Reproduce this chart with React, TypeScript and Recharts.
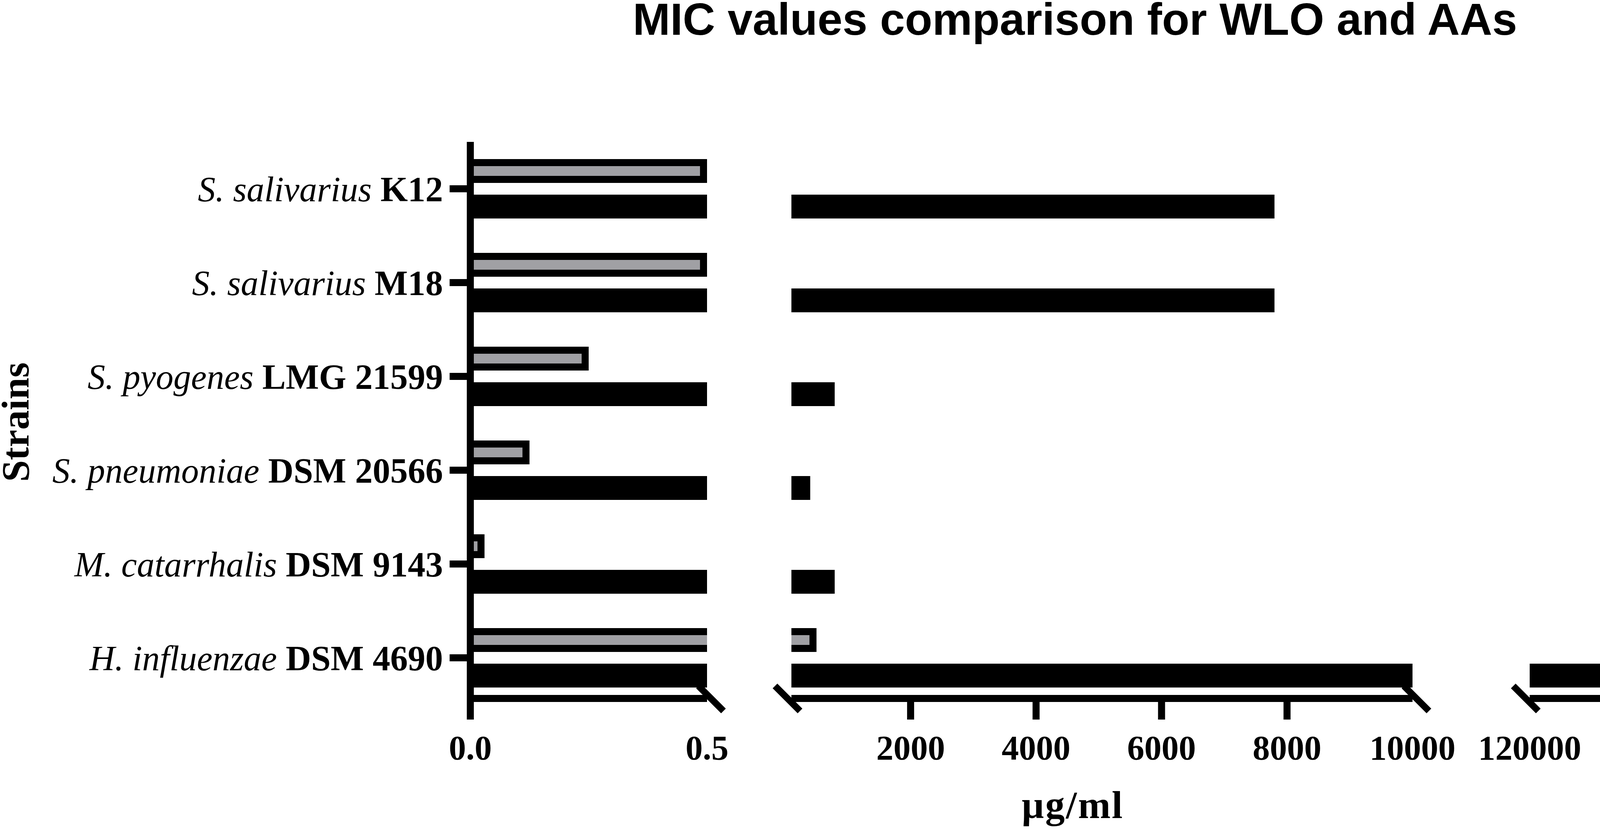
import React from 'react';
import { BarChart, Bar, XAxis, YAxis, Legend } from 'recharts';

// ---------- data ----------
const SPECIES = ['S. salivarius', 'S. salivarius', 'S. pyogenes', 'S. pneumoniae', 'M. catarrhalis', 'H. influenzae'];
const STRAINS = ['K12', 'M18', 'LMG 21599', 'DSM 20566', 'DSM 9143', 'DSM 4690'];
const WLO_VALUES = [7800, 7800, 790, 400, 790, 125000];
const AAS_VALUES = [0.5, 0.5, 0.25, 0.125, 0.03, 500];

const SEG1_DOMAIN = [0, 0.5];
const SEG1_TICKS = [0, 0.5];
const SEG1_LABELS = ['0.0', '0.5'];
const SEG1_TICKLINES = [0];

const SEG2_DOMAIN = [100, 10000];
const SEG2_TICKS = [100, 2000, 4000, 6000, 8000, 10000];
const SEG2_LABELS = ['', '2000', '4000', '6000', '8000', '10000'];
const SEG2_TICKLINES = [2000, 4000, 6000, 8000];

const SEG3_DOMAIN = [120000, 125000];
const SEG3_TICKS = [120000, 125000];
const SEG3_LABELS = ['120000', '125000'];
const SEG3_TICKLINES = [125000];

const LEGEND_ORDER = ['WLO', 'AAs'];

const TITLE = 'MIC values comparison for WLO and AAs';
const X_TITLE = 'µg/ml';
const Y_TITLE = 'Strains';

// ---------- style ----------
const GRAY = '#A0A0A4';
const SERIF = '"Liberation Serif", "Times New Roman", Times, serif';
const SANS = '"Liberation Sans", Arial, Helvetica, sans-serif';
const LINE = 18;

const CATEGORY_NAMES = SPECIES.map((s, i) => `${s} ${STRAINS[i]}`);

const buildData = (lo: number) =>
  CATEGORY_NAMES.map((name, i) => ({
    name,
    wlo: WLO_VALUES[i] > lo ? WLO_VALUES[i] : null,
    aas: AAS_VALUES[i] > lo ? AAS_VALUES[i] : null,
  }));

const DATA1 = buildData(SEG1_DOMAIN[0]);
const DATA2 = buildData(SEG2_DOMAIN[0]);
const DATA3 = buildData(SEG3_DOMAIN[0]);

const WloShape = (p: any) => {
  const { x, y, width, height } = p;
  if (!(width > 0)) return <g />;
  return <rect x={x} y={y} width={width} height={height} fill="#000" />;
};

const AasShape = (p: any) => {
  const { x, y, width, height } = p;
  if (!(width > 0)) return <g />;
  return (
    <g>
      <rect x={x} y={y} width={width} height={height} fill="#000" />
      <rect x={x} y={y + LINE} width={Math.max(0, width - LINE)} height={Math.max(0, height - 2 * LINE)} fill={GRAY} />
    </g>
  );
};

const YTick = (props: any) => {
  const { x, y, payload } = props;
  const i = CATEGORY_NAMES.indexOf(payload.value);
  return (
    <text x={x} y={y + 32} textAnchor="end" fontFamily={SERIF} fontSize={90} fill="#000" style={{ whiteSpace: 'pre' }}>
      <tspan fontStyle="italic">{SPECIES[i]}</tspan>
      <tspan fontWeight="bold">{' ' + STRAINS[i]}</tspan>
    </text>
  );
};

const makeXTick = (
  ticks: number[],
  labels: string[],
  tickLines: number[],
  slashStart: boolean,
  slashEnd: boolean
) => (props: any) => {
  const { x, y, payload } = props;
  const v = payload.value;
  const i = ticks.indexOf(v);
  const label = labels[i];
  const first = i === 0;
  const last = i === ticks.length - 1;
  const drawSlash = (first && slashStart) || (last && slashEnd);
  const cx = first && slashStart ? x - 10 : x + 10;
  return (
    <g>
      {tickLines.includes(v) && <rect x={x - LINE / 2} y={y} width={LINE} height={54} fill="#000" />}
      {drawSlash && (
        <line x1={cx - 32} y1={y - 32} x2={cx + 32} y2={y + 32} stroke="#000" strokeWidth={17} />
      )}
      {label ? (
        <text x={x} y={y + 156} textAnchor="middle" fontFamily={SERIF} fontWeight="bold" fontSize={88} fill="#000">
          {label}
        </text>
      ) : null}
    </g>
  );
};

const XTICK1 = makeXTick(SEG1_TICKS, SEG1_LABELS, SEG1_TICKLINES, false, true);
const XTICK2 = makeXTick(SEG2_TICKS, SEG2_LABELS, SEG2_TICKLINES, true, true);
const XTICK3 = makeXTick(SEG3_TICKS, SEG3_LABELS, SEG3_TICKLINES, true, false);

const LegendContent = (props: any) => {
  const payload = props.payload || [];
  return (
    <svg width={430} height={240} style={{ display: 'block' }}>
      {LEGEND_ORDER.map((name, i) => {
        const item = payload.find((p: any) => p.value === name);
        const y0 = i * 162;
        return (
          <g key={name}>
            <rect x={0} y={y0} width={128} height={62} fill="#000" />
            {name === 'AAs' && <rect x={18} y={y0 + 18} width={92} height={26} fill={item?.color || GRAY} />}
            <text x={201} y={y0 + 66} fontFamily={SERIF} fontSize={100} fill="#000">
              {name}
            </text>
          </g>
        );
      })}
    </svg>
  );
};

const CHART_H = 2121;
const TOP = 363;
const XAXIS_H = 334;
const Y_PADDING = { top: 0, bottom: -16 };

const bars = [
  <Bar key="aas" dataKey="aas" name="AAs" fill={GRAY} barSize={61} isAnimationActive={false} shape={AasShape} />,
  <Bar key="wlo" dataKey="wlo" name="WLO" fill="#000" barSize={61} isAnimationActive={false} shape={WloShape} />,
];

export default function App() {
  return (
    <div style={{ position: 'absolute', left: 0, top: 0, width: 4782, height: 2121, background: '#fff', overflow: 'hidden' }}>
      <svg width={4782} height={2121} style={{ position: 'absolute', left: 0, top: 0 }}>
        <text x={2752} y={89} textAnchor="middle" fontFamily={SANS} fontWeight="bold" fontSize={115} fill="#000">
          {TITLE}
        </text>
        <text x={2746} y={2093} textAnchor="middle" fontFamily={SERIF} fontWeight="bold" fontSize={100} letterSpacing={3} fill="#000">
          {X_TITLE}
        </text>
        <g transform="translate(73,1080) rotate(-90)">
          <text x={0} y={0} textAnchor="middle" fontFamily={SERIF} fontWeight="bold" fontSize={100} fill="#000">
            {Y_TITLE}
          </text>
        </g>
      </svg>

      <div style={{ position: 'absolute', left: 0, top: 0 }}>
        <BarChart width={1900} height={CHART_H} data={DATA1} layout="vertical" barGap={30}
          margin={{ top: TOP, right: 90, bottom: 0, left: 0 }}>
          <XAxis type="number" domain={SEG1_DOMAIN} ticks={SEG1_TICKS} allowDataOverflow interval={0}
            height={XAXIS_H} tickSize={0} tickMargin={0} tickLine={false}
            axisLine={{ stroke: '#000', strokeWidth: LINE }} tick={XTICK1} />
          <YAxis type="category" dataKey="name" width={1204} interval={0} padding={Y_PADDING}
            tickSize={53} tickMargin={17} tick={YTick}
            axisLine={{ stroke: '#000', strokeWidth: LINE }} tickLine={{ stroke: '#000', strokeWidth: LINE }} />
          {bars}
        </BarChart>
      </div>

      <div style={{ position: 'absolute', left: 1920, top: 0 }}>
        <BarChart width={1840} height={CHART_H} data={DATA2} layout="vertical" barGap={30}
          margin={{ top: TOP, right: 144, bottom: 0, left: 106 }}>
          <XAxis type="number" domain={SEG2_DOMAIN} ticks={SEG2_TICKS} allowDataOverflow interval={0}
            height={XAXIS_H} tickSize={0} tickMargin={0} tickLine={false}
            axisLine={{ stroke: '#000', strokeWidth: LINE }} tick={XTICK2} />
          <YAxis type="category" dataKey="name" hide width={0} padding={Y_PADDING} />
          {bars}
        </BarChart>
      </div>

      <div style={{ position: 'absolute', left: 3760, top: 0 }}>
        <BarChart width={1022} height={CHART_H} data={DATA3} layout="vertical" barGap={30}
          margin={{ top: TOP, right: 494, bottom: 0, left: 156 }}>
          <XAxis type="number" domain={SEG3_DOMAIN} ticks={SEG3_TICKS} allowDataOverflow interval={0}
            height={XAXIS_H} tickSize={0} tickMargin={0} tickLine={false}
            axisLine={{ stroke: '#000', strokeWidth: LINE }} tick={XTICK3} />
          <YAxis type="category" dataKey="name" hide width={0} padding={Y_PADDING} />
          {bars}
          <Legend layout="vertical" align="center" verticalAlign="middle" content={LegendContent}
            wrapperStyle={{ position: 'absolute', left: 592, top: 611, width: 430, height: 240 }} />
        </BarChart>
      </div>
    </div>
  );
}
